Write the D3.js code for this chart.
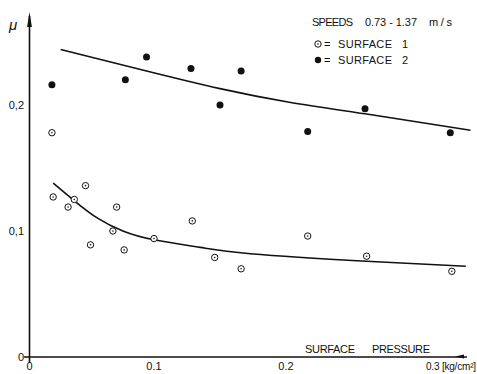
<!DOCTYPE html>
<html>
<head>
<meta charset="utf-8">
<script src="https://cdn.jsdelivr.net/npm/d3@7"></script>
<style>
  body { margin: 0; background: #fff; }
  text { font-family: "Liberation Sans", Arial, sans-serif; fill: #111; white-space: pre; }
</style>
</head>
<body>
<div id="chart"></div>
<script>
// Set dimensions
const width = 477,
      height = 374;

// Surface 1 (open circles), pressure in kg/cm2 and friction coefficient
const surface1X = [0.018, 0.019, 0.031, 0.036, 0.045, 0.049, 0.067, 0.070, 0.076, 0.100, 0.129, 0.146, 0.166, 0.214, 0.252, 0.307];
const surface1Y = [0.178, 0.127, 0.119, 0.125, 0.136, 0.089, 0.100, 0.119, 0.085, 0.094, 0.108, 0.079, 0.070, 0.096, 0.080, 0.068];

// Surface 2 (filled circles)
const surface2X = [0.018, 0.077, 0.094, 0.128, 0.150, 0.166, 0.214, 0.251, 0.306];
const surface2Y = [0.216, 0.220, 0.238, 0.229, 0.200, 0.227, 0.179, 0.197, 0.178];

// hand drawn fit curves
const fit1X = [0.019, 0.036, 0.055, 0.075, 0.100, 0.135, 0.173, 0.252, 0.316];
const fit1Y = [0.138, 0.124, 0.110, 0.100, 0.093, 0.087, 0.082, 0.076, 0.072];
const fit2X = [0.025, 0.094, 0.150, 0.203, 0.251, 0.319];
const fit2Y = [0.244, 0.227, 0.213, 0.202, 0.193, 0.180];

// tick labels
const xTicks = [0, 0.1, 0.2];
const xTickLabels = ["0", "0.1", "0.2"];
const yTicks = [0, 0.1, 0.2];
const yTickLabels = ["0", "0,1", "0,2"];

const svg = d3.select("#chart")
  .append("svg")
  .attr("width", width)
  .attr("height", height);

// the drawing's x axis is not evenly spaced, so use a piecewise scale
const x = d3.scaleLinear()
  .domain([0, 0.1, 0.2, 0.3])
  .range([29.5, 154, 286, 441]);

const y = d3.scaleLinear()
  .domain([0, 0.2])
  .range([357, 105]);

// text with a fixed drawn width, like the stencil lettering
function label(tx, ty, str, len, size) {
  const t = svg.append("text")
    .attr("x", tx)
    .attr("y", ty)
    .style("font-size", (size || 11) + "px")
    .text(str);
  if (len) t.attr("textLength", len).attr("lengthAdjust", "spacing");
  return t;
}

// Axes
svg.append("line")
  .attr("x1", x(0)).attr("x2", x(0))
  .attr("y1", 16).attr("y2", 363)
  .attr("stroke", "#111").attr("stroke-width", 1.6);

svg.append("path")
  .attr("d", `M${x(0)},12 L${x(0) - 2.4},27 L${x(0) + 2.4},27 Z`)
  .attr("fill", "#111");

svg.append("line")
  .attr("x1", 24).attr("x2", 467)
  .attr("y1", y(0)).attr("y2", y(0))
  .attr("stroke", "#111").attr("stroke-width", 1.3);

svg.append("path")
  .attr("d", `M455,${y(0) - 0.5} L464,${y(0) - 2.5} L464,${y(0) + 1.5} Z`)
  .attr("fill", "#111");

// Tick labels
svg.selectAll(".xtick")
  .data(xTicks)
  .enter()
  .append("text")
  .attr("class", "xtick")
  .attr("x", d => x(d))
  .attr("y", 370)
  .attr("text-anchor", "middle")
  .style("font-size", "11px")
  .text((d, i) => xTickLabels[i]);

label(x(0.3) - 15, 370, "0.3 [kg/cm\u00b2]", null, 10)
  .style("letter-spacing", "-0.2px");

svg.selectAll(".ytick")
  .data(yTicks)
  .enter()
  .append("text")
  .attr("class", "ytick")
  .attr("x", 24)
  .attr("y", d => y(d) + 4)
  .attr("text-anchor", "end")
  .style("font-size", "11px")
  .text((d, i) => yTickLabels[i]);

// axis titles
label(9, 30, "\u03bc", null, 15).style("font-style", "italic");
label(305, 353, "SURFACE", 50);
label(372, 353, "PRESSURE", 58);

// Fit curves
const line = d3.line()
  .x(d => x(d[0]))
  .y(d => y(d[1]))
  .curve(d3.curveNatural);

svg.append("path")
  .datum(d3.zip(fit1X, fit1Y))
  .attr("d", line)
  .attr("fill", "none")
  .attr("stroke", "#111")
  .attr("stroke-width", 1.6);

svg.append("path")
  .datum(d3.zip(fit2X, fit2Y))
  .attr("d", line)
  .attr("fill", "none")
  .attr("stroke", "#111")
  .attr("stroke-width", 1.6);

// open circle marker with centre dot
function openMarker(sel) {
  sel.append("circle")
    .attr("r", 3.2)
    .attr("fill", "#fff")
    .attr("stroke", "#111")
    .attr("stroke-width", 1);
  sel.append("circle")
    .attr("r", 0.8)
    .attr("fill", "#111");
}

svg.selectAll(".s1")
  .data(d3.zip(surface1X, surface1Y))
  .enter()
  .append("g")
  .attr("class", "s1")
  .attr("transform", d => `translate(${x(d[0])},${y(d[1])})`)
  .call(openMarker);

svg.selectAll(".s2")
  .data(d3.zip(surface2X, surface2Y))
  .enter()
  .append("circle")
  .attr("class", "s2")
  .attr("cx", d => x(d[0]))
  .attr("cy", d => y(d[1]))
  .attr("r", 3.5)
  .attr("fill", "#111");

// Legend
label(312, 25.5, "SPEEDS", 41);
label(365, 25.5, "0.73 - 1.37", 52);
label(429, 25.5, "m/s", 23);

svg.append("g")
  .attr("transform", "translate(318,44)")
  .call(openMarker);

svg.append("circle")
  .attr("cx", 318).attr("cy", 60)
  .attr("r", 3.2)
  .attr("fill", "#111");

label(324, 47.5, "=");
label(338, 47.5, "SURFACE", 54);
label(402, 47.5, "1");
label(324, 63.5, "=");
label(338, 63.5, "SURFACE", 54);
label(402, 63.5, "2");
</script>
</body>
</html>
